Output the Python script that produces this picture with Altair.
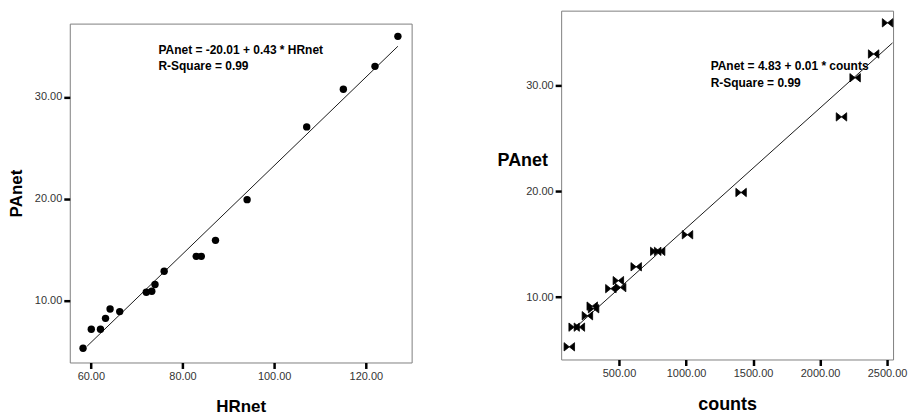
import altair as alt
import pandas as pd

# Data
HRnet = [58.3, 60.1, 62.1, 63.2, 64.2, 66.3, 72.1, 73.3, 74.0, 76.0, 83.0, 84.1, 87.2, 94.1, 107.1, 115.1, 122.0, 127.0]
PAnet = [5.3, 7.16, 7.16, 8.24, 9.15, 8.9, 10.8, 10.9, 11.56, 12.87, 14.33, 14.33, 15.9, 19.9, 27.05, 30.75, 33.0, 35.95]
counts = [129, 165, 204, 264, 300, 310, 439, 512, 495, 628, 774, 803, 1011, 1411, 2160, 2262, 2400, 2504]

left_ticks_x = [60, 80, 100, 120]
right_ticks_x = [500, 1000, 1500, 2000, 2500]
y_ticks = [10, 20, 30]

eq_left = ["PAnet = -20.01 + 0.43 * HRnet", "R-Square = 0.99"]
eq_right = ["PAnet = 4.83 + 0.01 * counts", "R-Square = 0.99"]

df = pd.DataFrame({"HRnet": HRnet, "PAnet": PAnet, "counts": counts})

FONT = "Liberation Sans"


def axis(values, title_kwargs=None):
    kw = dict(
        values=values, format=".2f", grid=False, domain=False,
        ticks=True, tickColor="black", tickWidth=2.5, tickSize=6,
        labelFont=FONT, labelFontSize=11, labelColor="#333333", labelPadding=2,
        titleFont=FONT, titleFontSize=17, titleFontWeight="bold", titleColor="black",
    )
    if title_kwargs:
        kw.update(title_kwargs)
    return alt.Axis(**kw)


def text_line(txt, x, y):
    return alt.Chart(pd.DataFrame({"t": [txt]})).mark_text(
        align="left", baseline="middle", font=FONT, fontSize=12, fontWeight="bold", color="black"
    ).encode(x=alt.value(x), y=alt.value(y), text="t:N")


# ---------- Left panel ----------
lx = alt.X("HRnet:Q", scale=alt.Scale(domain=[55.4, 130], nice=False, zero=False),
           axis=axis(left_ticks_x, dict(titlePadding=17)), title="HRnet")
ly = alt.Y("PAnet:Q", scale=alt.Scale(domain=[3.9, 37.2], nice=False, zero=False),
           axis=axis(y_ticks, dict(titlePadding=9)), title="PAnet")

left_pts = alt.Chart(df).mark_point(filled=True, shape="circle", size=55, color="black", opacity=1).encode(x=lx, y=ly)
left_line = alt.Chart(df).transform_regression(
    "HRnet", "PAnet", extent=[59.2, 127]
).mark_line(color="black", strokeWidth=0.9).encode(x=lx, y=ly)

left = alt.layer(
    left_line, left_pts,
    text_line(eq_left[0], 89, 26),
    text_line(eq_left[1], 89, 43),
).properties(width=343, height=340)

# invisible spacer so the left frame starts lower than the right one
spacer = alt.Chart(pd.DataFrame({"a": [0]})).mark_point(opacity=0, size=1).encode(
    x=alt.value(1), y=alt.value(5)
).properties(width=2, height=10, view=alt.ViewBackground(stroke=None))

left_col = alt.vconcat(spacer, left, spacing=2)

# ---------- Right panel ----------
rx = alt.X("counts:Q", scale=alt.Scale(domain=[68, 2545], nice=False, zero=False),
           axis=axis(right_ticks_x, dict(titlePadding=17, titleFontSize=18)), title="counts")
ry = alt.Y("PAnet:Q", scale=alt.Scale(domain=[4.1, 37.1], nice=False, zero=False),
           axis=axis(y_ticks, dict(titleAngle=0, titleAlign="center", titleBaseline="middle",
                                   titleX=-39, titleY=150, titleFontSize=18)), title="PAnet")

bowtie = "M-1,-0.8L1,0.8L1,-0.8L-1,0.8Z"
right_pts = alt.Chart(df).mark_point(
    filled=True, shape=bowtie, size=110, color="black", opacity=1,
    stroke="black", strokeWidth=0.8,
).encode(x=rx, y=ry)
right_line = alt.Chart(df).transform_regression(
    "counts", "PAnet", extent=[165, 2541]
).mark_line(color="black", strokeWidth=0.9).encode(x=rx, y=ry)

right = alt.layer(
    right_line, right_pts,
    text_line(eq_right[0], 150, 56),
    text_line(eq_right[1], 150, 73),
).properties(width=333, height=350)

chart = alt.hconcat(left_col, right, spacing=84).properties(
    padding={"left": 6, "top": 9, "right": 0, "bottom": 0},
    background="white",
).configure_view(stroke="#808080", strokeWidth=1)

chart.save("out.html", embed_options={"renderer": "svg", "actions": False})
